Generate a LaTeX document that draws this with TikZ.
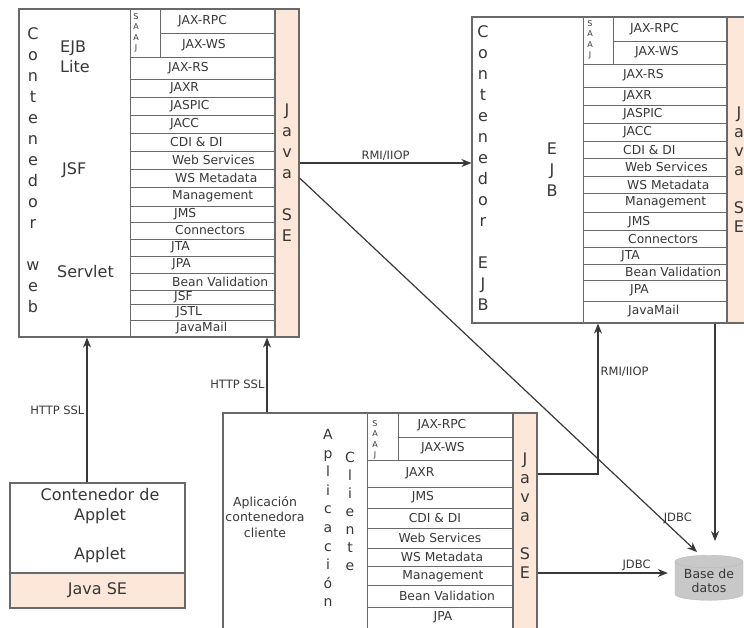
\documentclass[tikz,border=0pt]{standalone}
\usepackage{fontspec}
\setmainfont{DejaVu Sans}
\usetikzlibrary{shapes.geometric, arrows.meta, positioning}
\usepackage{xcolor}

\definecolor{javase}{RGB}{253,231,217}
\definecolor{linegray}{RGB}{105,105,105}
\definecolor{textgray}{RGB}{55,55,55}
\definecolor{dbgray}{RGB}{200,200,200}

\begin{document}
\begin{tikzpicture}[
      x=1pt, y=-1pt,
      container/.style={draw=linegray, line width=1.2pt, rectangle, inner sep=0pt},
      javastrip/.style={draw=linegray, line width=1.2pt, fill=javase, rectangle, inner sep=0pt,
                        align=center, text=textgray, font={\fontsize{16}{21}\selectfont}},
      sep/.style={draw=linegray, line width=0.9pt},
      api/.style={text=textgray, font={\fontsize{12.3}{14}\selectfont}, inner sep=0pt},
      apil/.style={api, anchor=west},
      saaj/.style={text=textgray, font={\fontsize{8}{10.5}\selectfont}, align=center, inner sep=0pt},
      vtext/.style={text=textgray, font={\fontsize{16}{21}\selectfont}, align=center, inner sep=0pt},
      vsmall/.style={text=textgray, font={\fontsize{14}{18.6}\selectfont}, align=center, inner sep=0pt},
      big/.style={text=textgray, font={\fontsize{16}{20}\selectfont}, align=center, inner sep=0pt},
      desc/.style={text=textgray, font={\fontsize{12.5}{15.5}\selectfont}, align=center, inner sep=0pt},
      db/.style={cylinder, shape border rotate=90, aspect=0.25, draw=gray!55, fill=dbgray,
                 minimum width=68pt, minimum height=45pt, inner sep=0pt, align=center,
                 text=textgray, font={\fontsize{12.5}{14.5}\selectfont}},
      arr/.style={-{Stealth[length=10pt, width=8pt]}, draw=black!78, line width=1.2pt},
      lbl/.style={text=textgray, font={\fontsize{11.5}{13}\selectfont}, inner sep=2pt}
    ]
    \useasboundingbox (0,0) rectangle (744,628);
    \clip (0,0) rectangle (744,628);

    % web container
    \node[container, minimum width=280pt, minimum height=328pt] (web) at (159,173) {};
    \node[javastrip, minimum width=24pt, minimum height=328pt] (webse) at (287,173) {J\\a\\v\\a\\~\\S\\E};
    \draw[sep] (130,9) -- (130,337) (160,9) -- (160,57) (160,33) -- (275,33);
    \draw[sep] (130,57) -- (275,57) (130,79) -- (275,79) (130,97) -- (275,97) (130,115) -- (275,115)
               (130,133) -- (275,133) (130,151) -- (275,151) (130,169) -- (275,169) (130,187) -- (275,187)
               (130,206) -- (275,206) (130,222) -- (275,222) (130,239) -- (275,239) (130,256) -- (275,256)
               (130,273) -- (275,273) (130,290) -- (275,290) (130,304) -- (275,304) (130,320) -- (275,320);
    \node[vtext] (w-name) at (33,170) {C\\o\\n\\t\\e\\n\\e\\d\\o\\r\\~\\w\\e\\b};
    \node[big, anchor=west, align=left] (w-ejblite) at (60,57) {EJB\\Lite};
    \node[big, anchor=west] (w-jsf) at (62,170) {JSF};
    \node[big, anchor=west] (w-servlet) at (57,272) {Servlet};
    \node[saaj] (w-saaj) at (136,33) {S\\A\\A\\J};
    \node[apil] (w-jaxrpc) at (178,21) {JAX-RPC};
    \node[apil] (w-jaxws) at (182,45) {JAX-WS};
    \node[apil] (w-jaxrs) at (168,68) {JAX-RS};
    \node[apil] (w-jaxr) at (170,88) {JAXR};
    \node[apil] (w-jaspic) at (170,106) {JASPIC};
    \node[apil] (w-jacc) at (170,124) {JACC};
    \node[apil] (w-cdi) at (170,142) {CDI \& DI};
    \node[apil] (w-ws) at (172,160) {Web Services};
    \node[apil] (w-wsmeta) at (175,178) {WS Metadata};
    \node[apil] (w-mgmt) at (172,196) {Management};
    \node[apil] (w-jms) at (174,214) {JMS};
    \node[apil] (w-conn) at (175,230.5) {Connectors};
    \node[apil] (w-jta) at (171,247.5) {JTA};
    \node[apil] (w-jpa) at (172,264.5) {JPA};
    \node[apil] (w-bv) at (172,281.5) {Bean Validation};
    \node[apil] (w-jsf2) at (174,297) {JSF};
    \node[apil] (w-jstl) at (176,312) {JSTL};
    \node[apil] (w-mail) at (176,328.5) {JavaMail};

    % EJB container
    \node[container, minimum width=286pt, minimum height=306pt] (ejb) at (615,170) {};
    \node[javastrip, minimum width=24pt, minimum height=306pt, font={\fontsize{16}{19}\selectfont}] (ejbse) at (739,170) {J\\a\\v\\a\\~\\S\\E};
    \draw[sep] (583,17) -- (583,323) (613,17) -- (613,64) (613,41) -- (727,41);
    \draw[sep] (583,64) -- (727,64) (583,87) -- (727,87) (583,105) -- (727,105) (583,123) -- (727,123)
               (583,141) -- (727,141) (583,158) -- (727,158) (583,176) -- (727,176) (583,193) -- (727,193)
               (583,212) -- (727,212) (583,230) -- (727,230) (583,247) -- (727,247) (583,264) -- (727,264)
               (583,280) -- (727,280) (583,301) -- (727,301);
    \node[vtext] (e-name) at (483,168) {C\\o\\n\\t\\e\\n\\e\\d\\o\\r\\~\\E\\J\\B};
    \node[vtext] (e-ejb) at (552,170) {E\\J\\B};
    \node[saaj] (e-saaj) at (590,40) {S\\A\\A\\J};
    \node[apil] (e-jaxrpc) at (630,29) {JAX-RPC};
    \node[apil] (e-jaxws) at (635,52) {JAX-WS};
    \node[apil] (e-jaxrs) at (623,75) {JAX-RS};
    \node[apil] (e-jaxr) at (623,96) {JAXR};
    \node[apil] (e-jaspic) at (623,114) {JASPIC};
    \node[apil] (e-jacc) at (623,132) {JACC};
    \node[apil] (e-cdi) at (623,150) {CDI \& DI};
    \node[apil] (e-ws) at (625,167) {Web Services};
    \node[apil] (e-wsmeta) at (627,185) {WS Metadata};
    \node[apil] (e-mgmt) at (625,202) {Management};
    \node[apil] (e-jms) at (628,222) {JMS};
    \node[apil] (e-conn) at (628,239) {Connectors};
    \node[apil] (e-jta) at (621,256) {JTA};
    \node[apil] (e-bv) at (625,272) {Bean Validation};
    \node[apil] (e-jpa) at (630,290) {JPA};
    \node[apil] (e-mail) at (628,311) {JavaMail};

    % application client container
    \node[container, minimum width=314pt, minimum height=219pt] (client) at (380,522.5) {};
    \node[javastrip, minimum width=24pt, minimum height=219pt] (clientse) at (525,522.5) {};
    \node[vtext, font={\fontsize{16}{19}\selectfont}] (c-se) at (525,516) {J\\a\\v\\a\\~\\S\\E};
    \draw[sep] (367,413) -- (367,632) (398,413) -- (398,460) (398,437) -- (513,437);
    \draw[sep] (367,460) -- (513,460) (367,487) -- (513,487) (367,508) -- (513,508) (367,528) -- (513,528)
               (367,548) -- (513,548) (367,566) -- (513,566) (367,585) -- (513,585) (367,607) -- (513,607);
    \node[desc] (c-desc) at (265,517) {Aplicación\\contenedora\\cliente};
    \node[vsmall] (c-apl) at (328,518) {A\\p\\l\\i\\c\\a\\c\\i\\ó\\n};
    \node[vsmall, font={\fontsize{14}{18}\selectfont}] (c-cli) at (350,511) {C\\l\\i\\e\\n\\t\\e};
    \node[saaj] (c-saaj) at (375,440) {S\\A\\A\\J};
    \node[api] (c-jaxrpc) at (442,425) {JAX-RPC};
    \node[api] (c-jaxws) at (443,448) {JAX-WS};
    \node[api] (c-jaxr) at (420,473) {JAXR};
    \node[api] (c-jms) at (423,497) {JMS};
    \node[api] (c-cdi) at (435,518) {CDI \& DI};
    \node[api] (c-ws) at (440,538) {Web Services};
    \node[api] (c-wsmeta) at (442,557) {WS Metadata};
    \node[api] (c-mgmt) at (443,576) {Management};
    \node[api] (c-bv) at (447,596) {Bean Validation};
    \node[api] (c-jpa) at (443,617) {JPA};

    % applet container
    \node[container, minimum width=175pt, minimum height=125pt] (applet) at (97.5,545.5) {};
    \node[javastrip, minimum width=175pt, minimum height=35pt] (appletse) at (97.5,590.5) {Java SE};
    \node[big] (a-title) at (100,506) {Contenedor de\\Applet};
    \node[big] (a-applet) at (100,555) {Applet};

    % database
    \node[db] (db) at (709,581) {Base de\\datos};

    \draw[arr] ([xshift=-10.5pt]applet.north) -- ([xshift=-10.5pt]applet.north |- web.south)
        node[lbl, midway, left] {HTTP SSL};
    \draw[arr] ([xshift=-113pt]client.north) -- ([xshift=-113pt]client.north |- web.south)
        node[lbl, pos=0.38, left] {HTTP SSL};
    \draw[arr] ([yshift=10pt]webse.east) -- ([yshift=10pt]webse.east -| ejb.west)
        node[lbl, midway, above] {RMI/IIOP};
    \draw[arr] ([yshift=-5pt]webse.east) -- ([xshift=-12pt, yshift=3pt]db.north)
        node[lbl, pos=0.91, right] {JDBC};
    \draw[arr] ([xshift=6pt]db.north |- ejb.south) -- ([xshift=6pt, yshift=14pt]db.north);
    \draw[arr] ([yshift=48.5pt]clientse.east) -| ([xshift=-17pt]ejb.south)
        node[lbl, pos=0.84, right] {RMI/IIOP};
    \draw[arr] ([yshift=8pt]clientse.east |- db.west) -- ([xshift=-7pt, yshift=8pt]db.west)
        node[lbl, pos=0.76, above] {JDBC};
\end{tikzpicture}
\end{document}
